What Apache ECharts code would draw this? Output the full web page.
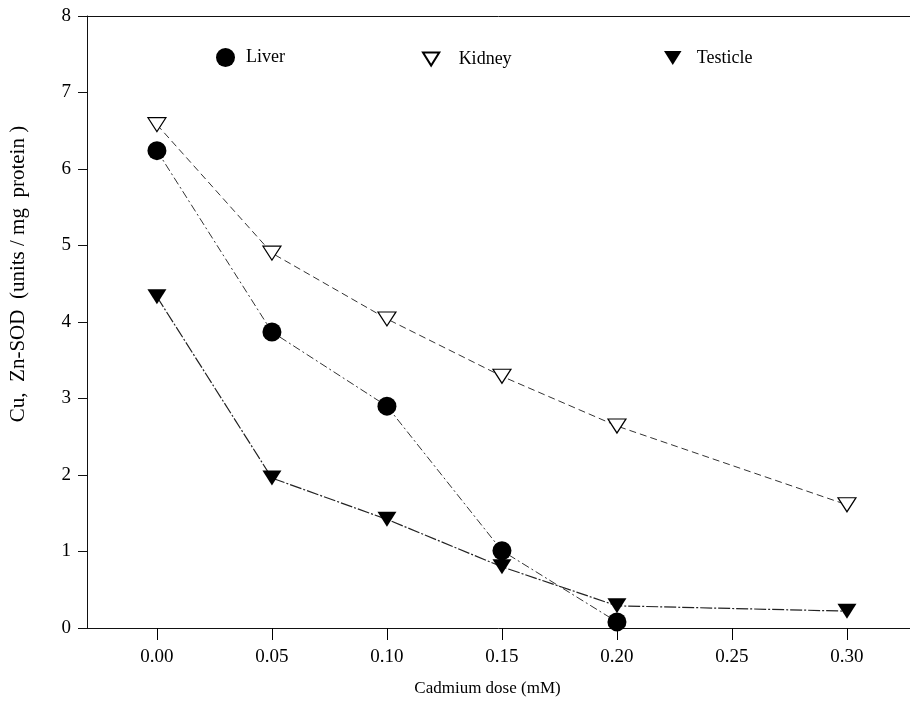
<!DOCTYPE html>
<html>
<head>
<meta charset="utf-8">
<script src="https://cdn.jsdelivr.net/npm/echarts@6/dist/echarts.min.js"></script>
<style>
html, body { margin: 0; padding: 0; background: #fff; }
#chart { width: 910px; height: 702px; }
</style>
</head>
<body>
<div id="chart"></div>
<script>
// cadmium dose (mM) and Cu,Zn-SOD activity
const liverDose = [0.00, 0.05, 0.10, 0.15, 0.20]
const liverSod = [6.24, 3.87, 2.90, 1.01, 0.08]
const kidneyDose = [0.00, 0.05, 0.10, 0.15, 0.20, 0.30]
const kidneySod = [6.58, 4.90, 4.04, 3.29, 2.64, 1.61]
const testicleDose = [0.00, 0.05, 0.10, 0.15, 0.20, 0.30]
const testicleSod = [4.33, 1.96, 1.42, 0.80, 0.29, 0.22]

const zip = (xs, ys) => xs.map((x, i) => [x, ys[i]])
const font = 'Liberation Serif'
const downTri = 'path://M0,0 L20,0 L10,16 Z'
const xMin = -0.0304
const xMax = 0.3274

const chart = echarts.init(document.getElementById('chart'))
chart.setOption({
  animation: false,
  grid: [
    { left: 87, right: 0, top: 16, bottom: 74 },
    // helper grid spanning 0.00 .. 0.30, only for the x tick marks
    { left: 157, right: 63, top: 16, bottom: 74 }
  ],
  legend: [
    { data: [{ name: 'Liver', icon: 'circle' }], left: 211, top: 43, itemWidth: 19, itemHeight: 19, itemGap: 0,
      textStyle: { fontFamily: font, fontSize: 18, color: '#000', padding: [0, 0, 0, 6] } },
    { data: [{ name: 'Kidney', icon: downTri }], left: 417, top: 45, itemWidth: 17, itemHeight: 13,
      textStyle: { fontFamily: font, fontSize: 18, color: '#000', padding: [0, 0, 0, 14] } },
    { data: [{ name: 'Testicle', icon: downTri }], left: 659, top: 44, itemWidth: 18, itemHeight: 14,
      textStyle: { fontFamily: font, fontSize: 18, color: '#000', padding: [0, 0, 0, 10] } }
  ],
  xAxis: [
    {
      type: 'value',
      gridIndex: 0,
      min: xMin,
      max: xMax,
      splitNumber: 7,
      name: 'Cadmium dose (mM)',
      nameLocation: 'middle',
      nameGap: 52,
      nameTextStyle: { fontFamily: font, fontSize: 17, color: '#000', padding: [0, 22, 0, 0] },
      axisLine: { show: true, onZero: false, lineStyle: { color: '#111' } },
      axisTick: { show: false },
      axisLabel: {
        fontFamily: font, fontSize: 19, color: '#000', margin: 20,
        showMinLabel: false, showMaxLabel: false,
        formatter: v => v.toFixed(2)
      },
      splitLine: { show: false }
    },
    {
      // top frame line
      type: 'value', gridIndex: 0, position: 'top', min: xMin, max: xMax,
      axisLine: { show: true, onZero: false, lineStyle: { color: '#111' } },
      axisTick: { show: false }, axisLabel: { show: false }, splitLine: { show: false }
    },
    {
      // tick marks under the bottom axis
      type: 'value', gridIndex: 1, position: 'bottom', min: 0, max: 0.3, interval: 0.05,
      axisLine: { show: false, onZero: false },
      axisTick: { show: true, length: 12, lineStyle: { color: '#000', width: 1 } },
      axisLabel: { show: false }, splitLine: { show: false }
    }
  ],
  yAxis: [
    {
      type: 'value',
      gridIndex: 0,
      min: 0,
      max: 8,
      interval: 1,
      name: 'Cu,  Zn-SOD  (units / mg  protein )',
      nameLocation: 'middle',
      nameGap: 58,
      nameTextStyle: { fontFamily: font, fontSize: 21, color: '#000', padding: [0, 0, 0, 96] },
      axisLine: { show: true, onZero: false, lineStyle: { color: '#111' } },
      axisTick: { show: true, length: 9, lineStyle: { color: '#111' } },
      axisLabel: { fontFamily: font, fontSize: 19, color: '#000', margin: 16 },
      splitLine: { show: false }
    },
    {
      type: 'value', gridIndex: 1, min: 0, max: 8, show: false
    }
  ],
  series: [
    {
      name: 'Liver', type: 'line', data: zip(liverDose, liverSod),
      symbol: 'circle', symbolSize: 19,
      itemStyle: { color: '#000' },
      lineStyle: { color: '#333', width: 1, type: [8, 3, 2, 3] }
    },
    {
      name: 'Kidney', type: 'line', data: zip(kidneyDose, kidneySod),
      symbol: downTri, symbolSize: [18, 14],
      itemStyle: { color: '#fff', borderColor: '#000', borderWidth: 1.2 },
      lineStyle: { color: '#333', width: 1, type: [7, 4] }
    },
    {
      name: 'Testicle', type: 'line', data: zip(testicleDose, testicleSod),
      symbol: downTri, symbolSize: [19, 15],
      itemStyle: { color: '#000' },
      lineStyle: { color: '#222', width: 1.2, type: [12, 2, 2, 2] }
    }
  ]
})
</script>
</body>
</html>
